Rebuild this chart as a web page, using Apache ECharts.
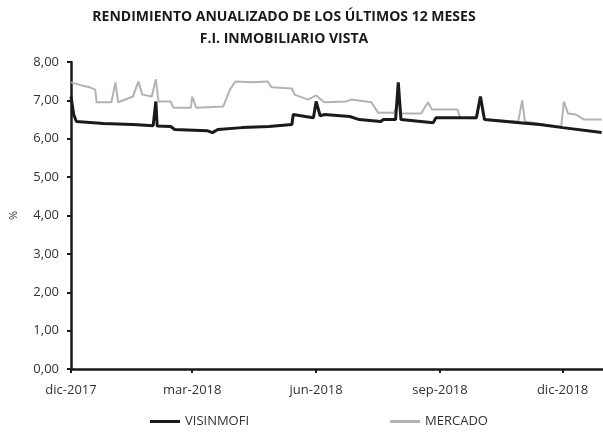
<!DOCTYPE html>
<html>
<head>
<meta charset="utf-8">
<script src="https://cdn.jsdelivr.net/npm/echarts@6/dist/echarts.min.js"></script>
<style>
  html, body { margin: 0; padding: 0; background: #fff; }
  #chart { width: 603px; height: 433px; }
</style>
</head>
<body>
<div id="chart"></div>
<script>
// fechas de las marcas del eje X
const tickDates = ['2017-12-01', '2018-03-01', '2018-06-01', '2018-09-01', '2018-12-01'];
const tickLabels = ['dic-2017', 'mar-2018', 'jun-2018', 'sep-2018', 'dic-2018'];

// VISINMOFI
const visDates = ['2017-12-01', '2017-12-03', '2017-12-05', '2017-12-25', '2018-01-16', '2018-01-31',
  '2018-02-01', '2018-02-02', '2018-02-03', '2018-02-13', '2018-02-16', '2018-03-12', '2018-03-16',
  '2018-03-20', '2018-04-07', '2018-04-27', '2018-05-14', '2018-05-15', '2018-05-24', '2018-05-30',
  '2018-06-01', '2018-06-04', '2018-06-07', '2018-06-26', '2018-07-03', '2018-07-19', '2018-07-21',
  '2018-07-30', '2018-08-01', '2018-08-03', '2018-08-27', '2018-08-29', '2018-09-28', '2018-10-01',
  '2018-10-04', '2018-10-30', '2018-11-14', '2018-12-01', '2018-12-30'];
const visValues = [7.10, 6.63, 6.45, 6.40, 6.37, 6.34,
  6.34, 6.97, 6.33, 6.32, 6.24, 6.21, 6.16,
  6.24, 6.29, 6.32, 6.37, 6.63, 6.58, 6.55,
  6.97, 6.60, 6.63, 6.58, 6.50, 6.45, 6.50,
  6.50, 7.47, 6.50, 6.42, 6.55, 6.55, 7.10,
  6.50, 6.42, 6.37, 6.29, 6.16];

// MERCADO
const merDates = ['2017-12-01', '2017-12-09', '2017-12-15', '2017-12-19', '2017-12-20', '2017-12-31',
  '2018-01-03', '2018-01-05', '2018-01-16', '2018-01-20', '2018-01-23', '2018-01-30', '2018-02-02',
  '2018-02-04', '2018-02-13', '2018-02-15', '2018-02-28', '2018-03-01', '2018-03-04', '2018-03-24',
  '2018-03-29', '2018-04-02', '2018-04-15', '2018-04-26', '2018-04-29', '2018-05-14', '2018-05-16',
  '2018-05-26', '2018-06-01', '2018-06-07', '2018-06-23', '2018-06-27', '2018-07-12', '2018-07-17',
  '2018-07-29', '2018-08-01', '2018-08-03', '2018-08-18', '2018-08-23', '2018-08-26', '2018-09-14',
  '2018-09-16', '2018-09-28', '2018-10-01', '2018-10-04', '2018-10-29', '2018-11-01', '2018-11-03',
  '2018-11-17', '2018-11-30', '2018-12-02', '2018-12-05', '2018-12-11', '2018-12-17', '2018-12-30'];
const merValues = [7.47, 7.39, 7.34, 7.28, 6.95, 6.95,
  7.47, 6.95, 7.10, 7.49, 7.15, 7.10, 7.55,
  6.97, 6.97, 6.81, 6.81, 7.10, 6.81, 6.84,
  7.28, 7.49, 7.47, 7.49, 7.34, 7.31, 7.15,
  7.02, 7.13, 6.95, 6.97, 7.02, 6.95, 6.68,
  6.68, 7.00, 6.66, 6.66, 6.95, 6.76, 6.76,
  6.55, 6.53, 7.02, 6.50, 6.45, 7.00, 6.45,
  6.37, 6.32, 6.97, 6.66, 6.63, 6.50, 6.50];

const toTime = d => Date.parse(d);
const tickTimes = tickDates.map(toTime);
const font = 'Open Sans';

const chart = echarts.init(document.getElementById('chart'));
const option = {
  backgroundColor: '#fff',
  animation: false,
  title: {
    text: 'RENDIMIENTO ANUALIZADO DE LOS ÚLTIMOS 12 MESES\nF.I. INMOBILIARIO VISTA',
    left: 279,
    textAlign: 'center',
    top: 1,
    textStyle: {
      fontFamily: font,
      fontWeight: 'bold',
      fontSize: 14,
      lineHeight: 22,
      color: '#1a1a1a'
    }
  },
  legend: {
    bottom: 0,
    left: 145,
    itemGap: 141,
    itemWidth: 30,
    itemHeight: 3,
    icon: 'rect',
    textStyle: { fontFamily: font, fontSize: 13, color: '#333' },
    data: ['VISINMOFI', 'MERCADO']
  },
  grid: { left: 67, right: 0, top: 62, bottom: 64 },
  xAxis: {
    type: 'value',
    min: toTime('2017-12-01'),
    max: toTime('2018-12-31'),
    splitLine: { show: false },
    axisLine: { lineStyle: { color: '#1a1a1a', width: 2.5 } },
    axisTick: { customValues: tickTimes, length: 4, lineStyle: { color: '#1a1a1a', width: 2 } },
    axisLabel: {
      customValues: tickTimes,
      margin: 15,
      fontFamily: font,
      fontSize: 13,
      color: '#333',
      formatter: v => tickLabels[tickTimes.indexOf(v)]
    }
  },
  yAxis: {
    type: 'value',
    min: 0,
    max: 8,
    interval: 1,
    name: '%',
    nameLocation: 'middle',
    nameGap: 52,
    nameTextStyle: { fontFamily: font, fontSize: 11, color: '#333' },
    splitLine: { show: false },
    axisLine: { show: true, lineStyle: { color: '#1a1a1a', width: 2.5 } },
    axisTick: { show: true, length: 4, lineStyle: { color: '#1a1a1a', width: 2 } },
    axisLabel: {
      margin: 12,
      fontFamily: font,
      fontSize: 13,
      color: '#333',
      formatter: v => v.toFixed(2).replace('.', ',')
    }
  },
  series: [
    {
      name: 'VISINMOFI',
      type: 'line',
      symbol: 'none',
      z: 3,
      lineStyle: { color: '#1a1a1a', width: 3 },
      itemStyle: { color: '#1a1a1a' },
      data: visDates.map((d, i) => [toTime(d), visValues[i]])
    },
    {
      name: 'MERCADO',
      type: 'line',
      symbol: 'none',
      z: 2,
      lineStyle: { color: '#b3b3b3', width: 2 },
      itemStyle: { color: '#b3b3b3' },
      data: merDates.map((d, i) => [toTime(d), merValues[i]])
    }
  ]
};
chart.setOption(option);
</script>
</body>
</html>
